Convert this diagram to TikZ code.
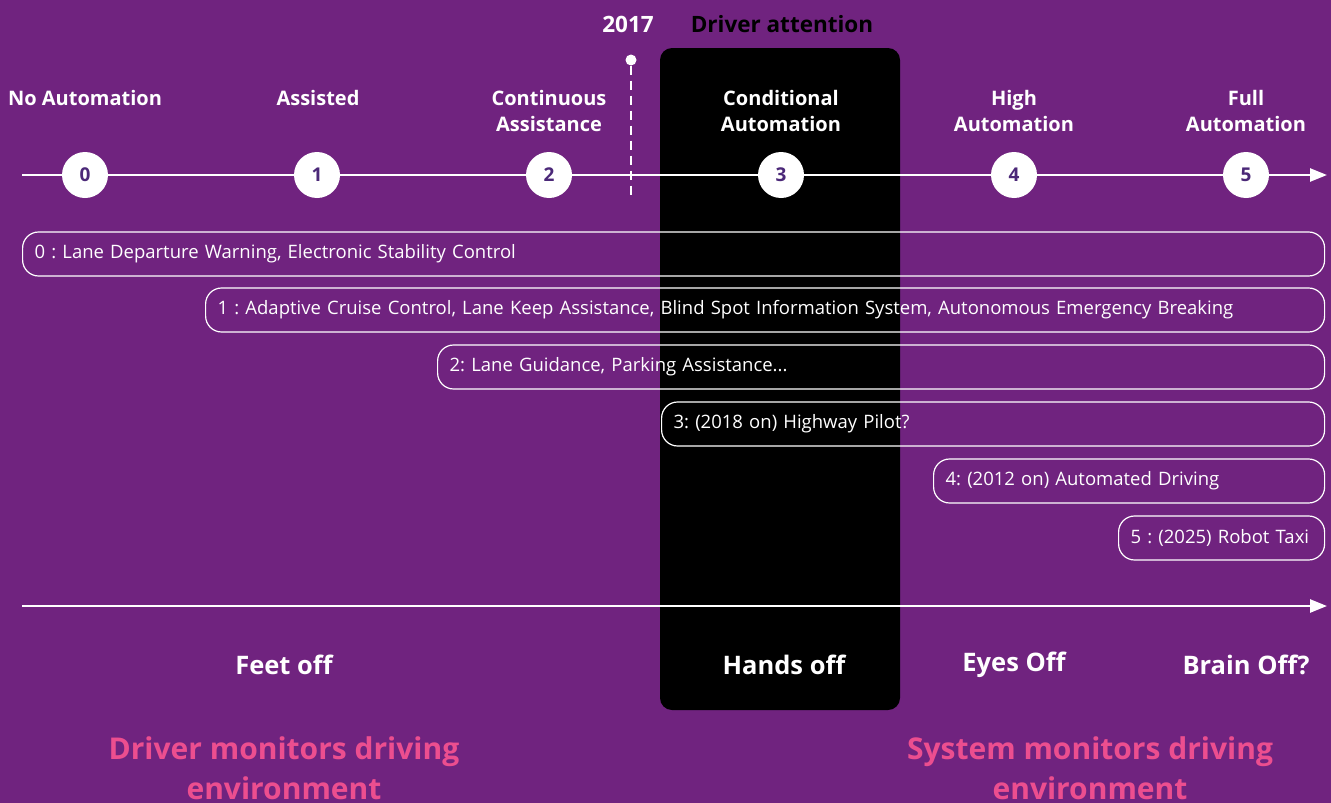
\documentclass[tikz,border=0pt]{standalone}
\usepackage{fontspec}
\setmainfont{Open Sans}
\usetikzlibrary{positioning,arrows.meta}
\definecolor{bgpurple}{HTML}{70237F}
\definecolor{lvlpurple}{HTML}{4B2878}
\definecolor{monpink}{HTML}{EC4E8F}
\frenchspacing

\begin{document}
\begin{tikzpicture}[
  x=1pt,y=-1pt,
  level/.style={font=\bfseries\fontsize{20}{26}\selectfont,text=white,align=center},
  num/.style={circle,fill=white,minimum size=46pt,inner sep=0pt,font=\bfseries\fontsize{19}{20}\selectfont,text=lvlpurple},
  pill/.style={draw=white,line width=1.2pt,rounded corners=16pt,minimum height=44pt,anchor=west,align=left,inner xsep=12pt,font=\fontsize{18.5}{20}\selectfont,text=white},
  mode/.style={font=\bfseries\fontsize{25.5}{28}\selectfont,text=white},
  monitor/.style={font=\bfseries\fontsize{30}{40}\selectfont,text=monpink,align=center},
  attn/.style={fill=black,rounded corners=12pt,minimum width=240pt,minimum height=662pt,inner sep=0pt},
  axis/.style={white,line width=2.5pt,-{Triangle[length=17pt,width=13pt]}}]
  \useasboundingbox (0,0) rectangle (1331,803);
  \fill[bgpurple] (0,0) rectangle (1331,803);
  % driver attention band
  \node[attn] (attn) at (780,379) {};
  \node[font=\bfseries\fontsize{22.5}{24}\selectfont] (attnlbl) at (782,24) {Driver attention};
  % 2017 marker
  \node[font=\bfseries\fontsize{22.5}{24}\selectfont,text=white] (yr) at (628,24) {2017};
  \node[circle,fill=white,minimum size=11pt,inner sep=0pt] (yrdot) at (631,60) {};
  \coordinate (yrend) at (631,196);
  \draw[white,line width=2.5pt,dash pattern=on 9pt off 6pt] (yrdot) -- (yrend);
  % levels axis
  \coordinate (top0) at (22,175);
  \coordinate (top1) at (1327,175);
  \draw[axis] (top0) -- (top1);
  \node[num] (n0) at (85,175) {0};
  \node[num] (n1) at (317,175) {1};
  \node[num] (n2) at (549,175) {2};
  \node[num] (n3) at (781,175) {3};
  \node[num] (n4) at (1014,175) {4};
  \node[num] (n5) at (1246,175) {5};
  \node[level] (lv0) at (85,98) {No Automation};
  \node[level] (lv1) at (318,98) {Assisted};
  \node[level] (lv2) at (549,111) {Continuous\\Assistance};
  \node[level] (lv3) at (781,111) {Conditional\\Automation};
  \node[level] (lv4) at (1014,111) {High\\Automation};
  \node[level] (lv5) at (1246,111) {Full\\Automation};
  % examples per level
  \node[pill,text width=1278pt] (ex0) at (22,254) {0 : Lane Departure Warning, Electronic Stability Control};
  \node[pill,text width=1095pt] (ex1) at (205,310) {1 : Adaptive Cruise Control, Lane Keep Assistance, Blind Spot Information System, Autonomous Emergency Breaking};
  \node[pill,text width=863pt] (ex2) at (437,367) {2: Lane Guidance, Parking Assistance...};
  \node[pill,text width=639pt] (ex3) at (661,424) {3: (2018 on) Highway Pilot?};
  \node[pill,text width=367pt] (ex4) at (933,481) {4: (2012 on) Automated Driving};
  \node[pill,text width=182pt] (ex5) at (1118,538) {5 : (2025) Robot Taxi};
  % what the driver may leave off
  \coordinate (bot0) at (22,606);
  \coordinate (bot1) at (1327,606);
  \draw[axis] (bot0) -- (bot1);
  \node[mode] (feet) at (284,665) {Feet off};
  \node[mode] (hands) at (784,665) {Hands off};
  \node[mode] (eyes) at (1014,665) {Eyes Off};
  \node[mode] (brain) at (1246,665) {Brain Off?};
  \node[monitor] (drvmon) at (284,768) {Driver monitors driving\\environment};
  \node[monitor] (sysmon) at (1090,768) {System monitors driving\\environment};
\end{tikzpicture}
\end{document}
